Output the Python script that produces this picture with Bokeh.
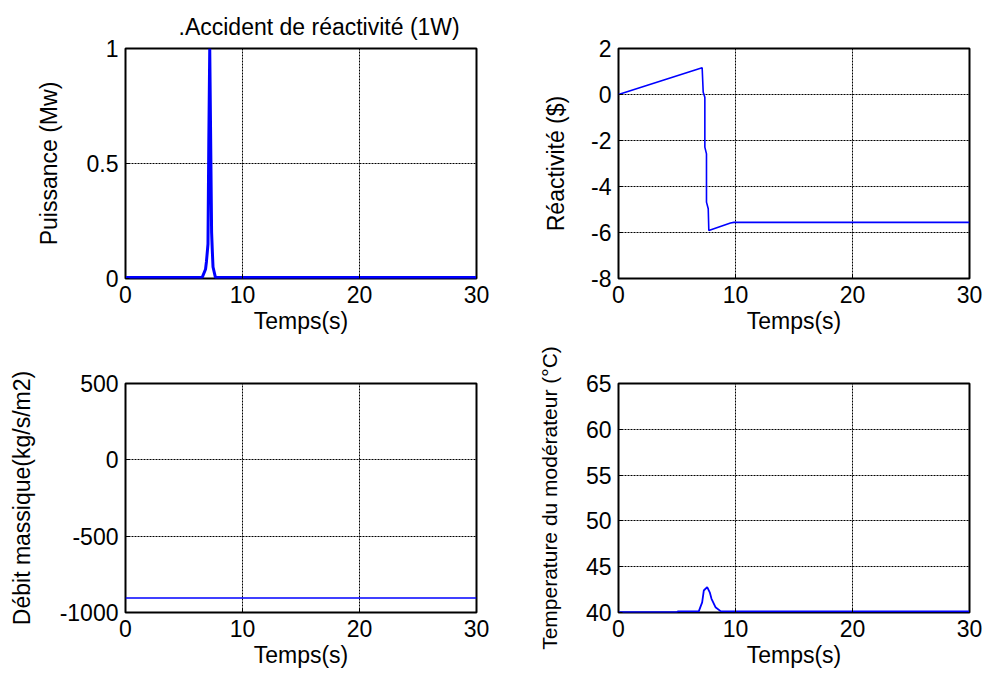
from bokeh.plotting import figure
from bokeh.models import Range1d, FixedTicker, Title
from bokeh.layouts import column, row
from bokeh.embed import file_html
from bokeh.resources import INLINE

FONT = "Liberation Sans"
BLUE = "#0000ff"
SIZE = "23px"

# ---- data ---------------------------------------------------------------
time_ticks = [0, 10, 20, 30]

# Puissance (Mw)
t_power = [0, 6.55, 6.84, 6.92, 7.05, 7.12, 7.2, 7.28, 7.36, 7.42, 7.48, 7.69, 30]
power = [0.004, 0.004, 0.04, 0.074, 0.15, 0.6, 1.0, 0.6, 0.2, 0.12, 0.05, 0.004, 0.004]
power_ticks = [0, 0.5, 1]
power_tick_labels = ["0", "0.5", "1"]

# Réactivité ($)
t_react = [0, 7.15, 7.24, 7.38, 7.38, 7.52, 7.52, 7.67, 7.72, 9.57, 9.86, 30]
react = [0.0, 1.16, 0.10, -0.12, -2.29, -2.58, -4.68, -4.97, -5.91, -5.59, -5.56, -5.56]
react_ticks = [-8, -6, -4, -2, 0, 2]
react_tick_labels = ["-8", "-6", "-4", "-2", "0", "2"]

# Débit massique (kg/s/m2)
t_flow = [0, 30]
flow = [-905, -905]
flow_ticks = [-1000, -500, 0, 500]
flow_tick_labels = ["-1000", "-500", "0", "500"]

# Température du modérateur (°C)
t_temp = [0, 5.0, 5.1, 6.86, 7.15, 7.29, 7.58, 7.8, 7.95, 8.29, 8.72, 9.0, 30]
temp = [40.05, 40.05, 40.12, 40.12, 41.1, 42.4, 42.76, 42.2, 41.5, 40.58, 40.15, 40.12, 40.12]
temp_ticks = [40, 45, 50, 55, 60, 65]
temp_tick_labels = ["40", "45", "50", "55", "60", "65"]


def panel(x, y, y_range, ticks, tick_labels, ylabel, lw, height, top,
          ylabel_standoff, ylabel_size=SIZE):
    p = figure(width=493, height=height,
               x_range=Range1d(0, 30), y_range=Range1d(*y_range),
               output_backend="svg", toolbar_location=None,
               min_border_left=125, min_border_right=17,
               min_border_top=top, min_border_bottom=62)
    p.background_fill_color = "white"
    p.border_fill_color = "white"
    p.outline_line_color = "black"
    p.outline_line_width = 2
    p.outline_line_alpha = 1

    p.line(x, y, line_color=BLUE, line_width=lw)

    p.xaxis.ticker = FixedTicker(ticks=time_ticks)
    p.yaxis.ticker = FixedTicker(ticks=ticks)
    p.yaxis.major_label_overrides = {t: s for t, s in zip(ticks, tick_labels)}
    p.xaxis.axis_label = "Temps(s)"
    p.yaxis.axis_label = ylabel

    for ax in (p.xaxis, p.yaxis):
        ax.axis_line_color = None
        ax.major_tick_in = 4
        ax.major_tick_out = 0
        ax.minor_tick_line_color = None
        ax.major_tick_line_color = "black"
        ax.major_label_text_font = FONT
        ax.major_label_text_font_size = SIZE
        ax.major_label_text_color = "black"
        ax.axis_label_text_font = FONT
        ax.axis_label_text_font_size = SIZE
        ax.axis_label_text_font_style = "normal"
        ax.axis_label_text_color = "black"
    p.yaxis.axis_label_text_font_size = ylabel_size
    p.xaxis.major_label_standoff = 7
    p.xaxis.axis_label_standoff = 2
    p.yaxis.major_label_standoff = 7
    p.yaxis.axis_label_standoff = ylabel_standoff

    for g in (p.xgrid, p.ygrid):
        g.grid_line_color = "black"
        g.grid_line_dash = "2 1"
        g.grid_line_width = 1
        g.grid_line_alpha = 1
    return p


p1 = panel(t_power, power, (0, 1), power_ticks, power_tick_labels,
           "Puissance (Mw)", 3, 340, 48, 22)
p1.title = Title(text=".Accident de réactivité (1W)", align="left", offset=53,
                 text_font=FONT, text_font_size=SIZE,
                 text_font_style="normal", text_color="black", standoff=17)

p2 = panel(t_react, react, (-8, 2), react_ticks, react_tick_labels,
           "Réactivité ($)", 1.6, 340, 48, 19)

p3 = panel(t_flow, flow, (-1000, 500), flow_ticks, flow_tick_labels,
           "Débit massique(kg/s/m2)", 1.6, 334, 43, 22)

p4 = panel(t_temp, temp, (40, 65), temp_ticks, temp_tick_labels,
           "Temperature du modérateur (°C)", 1.8, 334, 43, 22, ylabel_size="21px")

layout = column(row(p1, p2), row(p3, p4))

open("out.html", "w").write(file_html(layout, INLINE))
